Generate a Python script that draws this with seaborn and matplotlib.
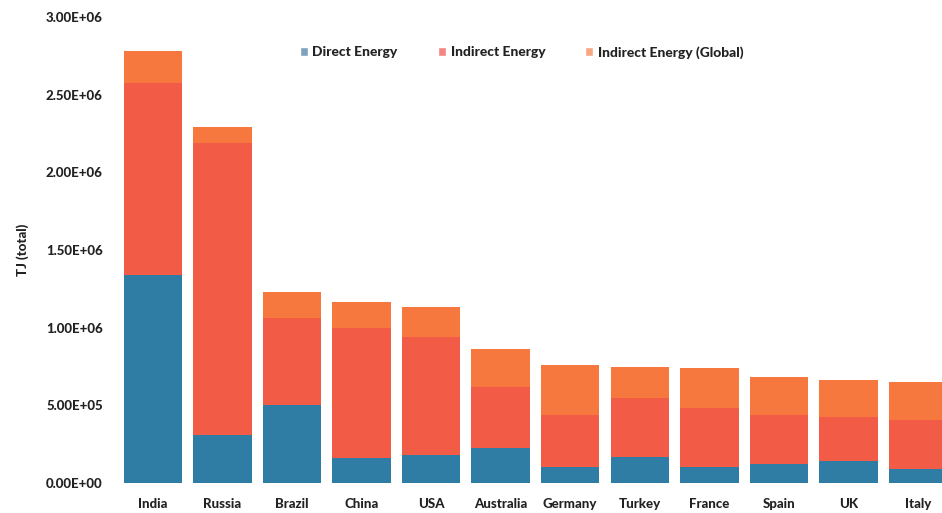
import matplotlib
matplotlib.use("Agg")
import matplotlib.pyplot as plt
from matplotlib.patches import Patch
import numpy as np
import pandas as pd
import seaborn as sns

countries = ["India", "Russia", "Brazil", "China", "USA", "Australia",
             "Germany", "Turkey", "France", "Spain", "UK", "Italy"]
direct = [1.34e6, 3.1e5, 5.0e5, 1.6e5, 1.8e5, 2.25e5,
          1.0e5, 1.7e5, 1.0e5, 1.2e5, 1.4e5, 0.9e5]
indirect = [1.234e6, 1.88e6, 0.56e6, 0.84e6, 0.76e6, 0.395e6,
            0.34e6, 0.38e6, 0.38e6, 0.32e6, 0.285e6, 0.315e6]
indirect_global = [0.206e6, 0.10e6, 0.17e6, 0.165e6, 0.19e6, 0.24e6,
                   0.32e6, 0.20e6, 0.26e6, 0.24e6, 0.235e6, 0.245e6]
y_ticks = [0, 5e5, 1e6, 1.5e6, 2e6, 2.5e6, 3e6]
y_tick_labels = ["0.00E+00", "5.00E+05", "1.00E+06", "1.50E+06",
                 "2.00E+06", "2.50E+06", "3.00E+06"]

c_direct = "#2f7ca4"
c_indirect = "#f25b45"
c_global = "#f7783e"
text_color = "#222222"

df = pd.DataFrame({"country": countries, "direct": direct,
                   "indirect": indirect, "global": indirect_global})
df["lvl2"] = df["direct"] + df["indirect"]
df["lvl3"] = df["lvl2"] + df["global"]

sns.set_theme(style="white")
plt.rcParams["font.family"] = ["Lato", "DejaVu Sans"]

fig = plt.figure(figsize=(9.42, 5.13), dpi=100)
ax = fig.add_axes([118 / 942, 30 / 513, 824 / 942, 466 / 513])

width = 0.84
# stacked bars drawn as overlapping cumulative totals
for col, colr in [("lvl3", c_global), ("lvl2", c_indirect), ("direct", c_direct)]:
    sns.barplot(data=df, x="country", y=col, color=colr, width=width,
                saturation=1, linewidth=0, edgecolor="none", ax=ax)

font_kw = dict(fontsize=9.5, fontweight="black", color=text_color)

ax.set_xlim(-0.5, 11.345)
ax.set_ylim(0, 3e6)
ax.set_yticks(y_ticks)
ax.set_yticklabels(y_tick_labels, **font_kw)
ax.set_xticks(range(len(countries)))
ax.set_xticklabels(countries, **font_kw)
ax.tick_params(axis="both", length=0)
ax.tick_params(axis="y", pad=11)
ax.tick_params(axis="x", pad=11)
ax.set_xlabel("")
ax.set_ylabel("TJ (total)", labelpad=12, **font_kw)
for s in ax.spines.values():
    s.set_visible(False)

handles = [Patch(facecolor="#7fa2bf", label="Direct Energy"),
           Patch(facecolor="#f48582", label="Indirect Energy"),
           Patch(facecolor="#f8a683", label="Indirect Energy (Global)")]
leg = ax.legend(handles=handles, loc="upper center", ncol=3, frameon=False,
                bbox_to_anchor=(0.49, 0.965), handlelength=0.55, handleheight=0.55,
                handletextpad=0.35, columnspacing=2.9,
                prop={"size": 10, "weight": "black"})
for t in leg.get_texts():
    t.set_color(text_color)

fig.savefig("out.png", dpi=100)
